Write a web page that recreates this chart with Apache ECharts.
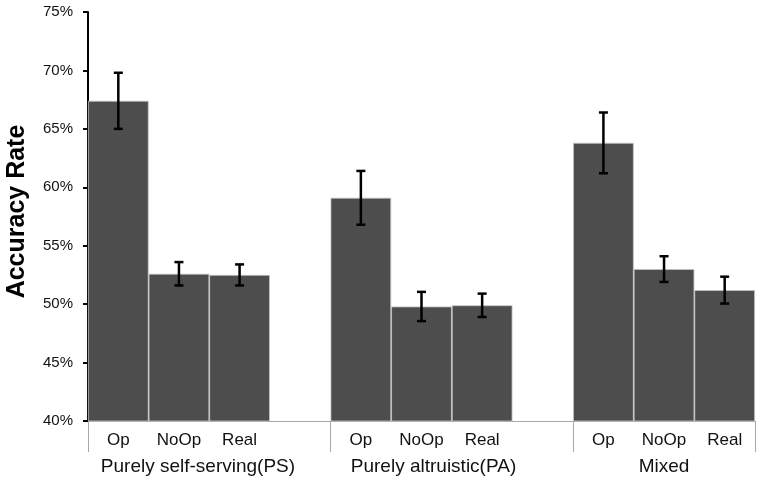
<!DOCTYPE html>
<html>
<head>
<meta charset="utf-8">
<script src="https://cdn.jsdelivr.net/npm/echarts@6/dist/echarts.min.js"></script>
<style>
	html, body { margin: 0; padding: 0; background: #fff; }
	#main { width: 760px; height: 484px; }
</style>
</head>
<body>
<div id="main"></div>
<script>
// 数据
const groups = ['Purely self-serving(PS)', 'Purely altruistic(PA)', 'Mixed'];
const conditions = ['Op', 'NoOp', 'Real'];
const accuracyPS = [67.4, 52.6, 52.5];
const accuracyPA = [59.1, 49.8, 49.9];
const accuracyMixed = [63.8, 53.0, 51.2];
const errorPS = [2.4, 1.0, 0.9];
const errorPA = [2.3, 1.25, 1.0];
const errorMixed = [2.6, 1.1, 1.15];
const yTicks = [40, 45, 50, 55, 60, 65, 70, 75];

const accuracy = [accuracyPS, accuracyPA, accuracyMixed];
const errors = [errorPS, errorPA, errorMixed];

// 每组三根柱子，组之间留一个空位
const categories = [];
const groupRow = [];
const barData = [];
const errData = [];
groups.forEach((g, gi) => {
	conditions.forEach((c, ci) => {
		const idx = categories.length;
		categories.push(c);
		groupRow.push(ci === 1 ? gi : -1);
		barData.push(accuracy[gi][ci]);
		errData.push([idx, accuracy[gi][ci] - errors[gi][ci], accuracy[gi][ci] + errors[gi][ci]]);
	});
	if (gi < groups.length - 1) {
		categories.push('');
		groupRow.push(-1);
		barData.push('-');
	}
});

const font = 'Liberation Sans, Arial, sans-serif';
const groupShift = [38, 24, 0]; // 组标签水平微调

const myChart = echarts.init(document.getElementById('main'));
myChart.setOption({
	animation: false,
	grid: { left: 88, right: 5, top: 12, bottom: 63, outerBoundsMode: 'none' },
	xAxis: [
		{
			type: 'category',
			data: categories,
			axisLine: { lineStyle: { color: '#a8a8a8', width: 1 } },
			axisTick: {
				show: true,
				interval: (i) => i % 4 === 0,
				length: 31,
				lineStyle: { color: '#a8a8a8', width: 1 },
			},
			axisLabel: { interval: 0, margin: 11, fontSize: 17, color: '#111', fontFamily: font },
		},
		{
			type: 'category',
			position: 'bottom',
			data: groupRow.map((g) => (g >= 0 ? '{g' + g + '|' + groups[g] + '}' : '')),
			axisLine: { show: false },
			axisTick: { show: false },
			axisLabel: {
				interval: 0,
				margin: 36,
				fontSize: 19,
				color: '#111',
				fontFamily: font,
				rich: {
					g0: { fontSize: 19, fontFamily: font, color: '#111', padding: [0, 0, 0, groupShift[0]] },
					g1: { fontSize: 19, fontFamily: font, color: '#111', padding: [0, 0, 0, groupShift[1]] },
					g2: { fontSize: 19, fontFamily: font, color: '#111', padding: [0, 0, 0, groupShift[2]] },
				},
			},
		},
	],
	yAxis: {
		type: 'value',
		min: yTicks[0],
		max: yTicks[yTicks.length - 1],
		interval: 5,
		name: 'Accuracy Rate',
		nameLocation: 'middle',
		nameGap: 58,
		nameTextStyle: { fontSize: 25, fontWeight: 'bold', color: '#000', fontFamily: font, padding: [0, 0, 0, 10] },
		axisLine: { show: true, lineStyle: { color: '#000', width: 2 } },
		axisTick: { show: true, length: 5, lineStyle: { color: '#000', width: 2 } },
		splitLine: { show: false },
		axisLabel: { formatter: '{value}%', margin: 15, fontSize: 15, color: '#111', fontFamily: font },
	},
	series: [
		{
			type: 'bar',
			data: barData,
			barCategoryGap: 0,
			itemStyle: { color: '#4d4d4d', borderColor: '#c4c4c4', borderWidth: 0.8 },
		},
		{
			type: 'custom',
			data: errData,
			z: 10,
			renderItem: (params, api) => {
				const lo = api.coord([api.value(0), api.value(1)]);
				const hi = api.coord([api.value(0), api.value(2)]);
				const w = 4.5;
				const style = { stroke: '#000', lineWidth: 2.5 };
				return {
					type: 'group',
					children: [
						{ type: 'line', shape: { x1: hi[0], y1: hi[1], x2: lo[0], y2: lo[1] }, style },
						{ type: 'line', shape: { x1: hi[0] - w, y1: hi[1], x2: hi[0] + w, y2: hi[1] }, style },
						{ type: 'line', shape: { x1: lo[0] - w, y1: lo[1], x2: lo[0] + w, y2: lo[1] }, style },
					],
				};
			},
		},
	],
});
</script>
</body>
</html>
